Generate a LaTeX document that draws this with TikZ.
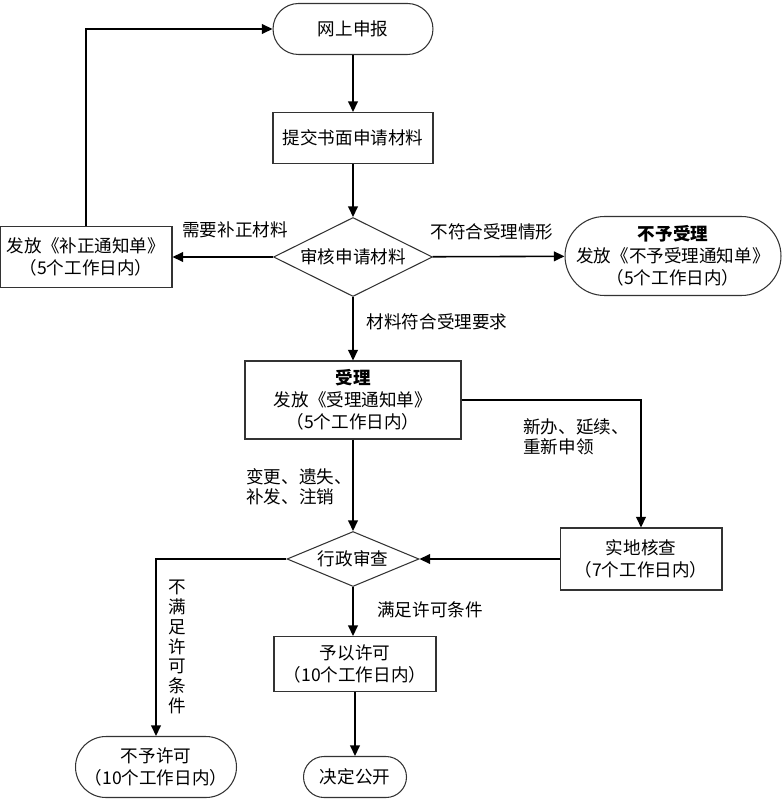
\documentclass[tikz,border=0pt]{standalone}
\usepackage{fontspec}
\setmainfont{Noto Sans CJK SC}
\usetikzlibrary{arrows.meta, shapes.geometric}

\tikzset{
    box/.style={draw=black!80, line width=0.6pt, rectangle, align=center, inner sep=1pt},
    term/.style={box, rounded corners=#1},
    decide/.style={draw=black!80, line width=0.6pt, diamond, aspect=2, inner sep=0pt},
    flow/.style={line width=0.9pt, -{Triangle[length=6pt,width=5.5pt]}},
    tag/.style={inner sep=0pt, align=left},
}

\begin{document}
\begin{tikzpicture}[x=0.02cm, y=-0.02cm, font=\fontsize{10}{12.5}\selectfont]
    \useasboundingbox (0,0) rectangle (782,800);
    % main column
    \node[term=0.51cm, minimum width=3.2cm, minimum height=1.02cm] (online) at (353,29) {网上申报};
    \node[box, minimum width=3.2cm, minimum height=1.02cm] (submit) at (353,138) {提交书面申请材料};
    \node[decide, minimum width=3.18cm, minimum height=1.58cm] (check) at (353,257) {审核申请材料};
    \node[box, minimum width=4.32cm, minimum height=1.56cm] (accept) at (353,400)
        {\textbf{受理}\\发放《受理通知单》\\（5个工作日内）};
    \node[decide, minimum width=2.64cm, minimum height=1.1cm] (review) at (353,559) {行政审查};
    \node[box, minimum width=3.24cm, minimum height=1.1cm] (grant) at (355,664) {予以许可\\（10个工作日内）};
    \node[term=0.41cm, minimum width=2.06cm, minimum height=0.82cm] (public) at (355,777) {决定公开};
    % side branches
    \node[box, minimum width=3.44cm, minimum height=1.22cm] (amend) at (86,257)
        {发放《补正通知单》\\（5个工作日内）};
    \node[term=0.79cm, minimum width=4.32cm, minimum height=1.58cm] (reject) at (673,256)
        {\textbf{不予受理}\\发放《不予受理通知单》\\（5个工作日内）};
    \node[box, minimum width=3.24cm, minimum height=1.24cm] (site) at (641,559) {实地核查\\（7个工作日内）};
    \node[term=0.61cm, minimum width=3.22cm, minimum height=1.22cm] (deny) at (156,767) {不予许可\\（10个工作日内）};

    % connectors
    \draw[flow] (online) -- (submit);
    \draw[flow] (submit) -- (check);
    \draw[flow] (check) -- (amend);
    \draw[flow] (amend.north) |- (online.west);
    \draw[flow] (check) -- (reject);
    \draw[flow] (check) -- (accept);
    \draw[flow] (accept.east) -| (site.north);
    \draw[flow] (accept) -- (review);
    \draw[flow] (site) -- (review);
    \draw[flow] (review.west) -| (deny.north);
    \draw[flow] (review.south) -- (review.south |- grant.north);
    \draw[flow] (grant) -- (public.north -| grant);

    % labels
    \node[tag] (lamend) at (235,230) {需要补正材料};
    \node[tag] (lreject) at (492,232) {不符合受理情形};
    \node[tag] (laccept) at (437,322) {材料符合受理要求};
    \node[tag, anchor=west, font=\fontsize{10}{11.4}\selectfont] (lsite) at (523,437) {新办、延续、\\重新申领};
    \node[tag, anchor=west, font=\fontsize{10}{11.4}\selectfont] (lchange) at (246,487) {变更、遗失、\\补发、注销};
    \node[tag] (lgrant) at (430,610) {满足许可条件};
    \node[tag, align=center, font=\fontsize{10}{11.3}\selectfont] (ldeny) at (177,647) {不\\满\\足\\许\\可\\条\\件};
\end{tikzpicture}
\end{document}
